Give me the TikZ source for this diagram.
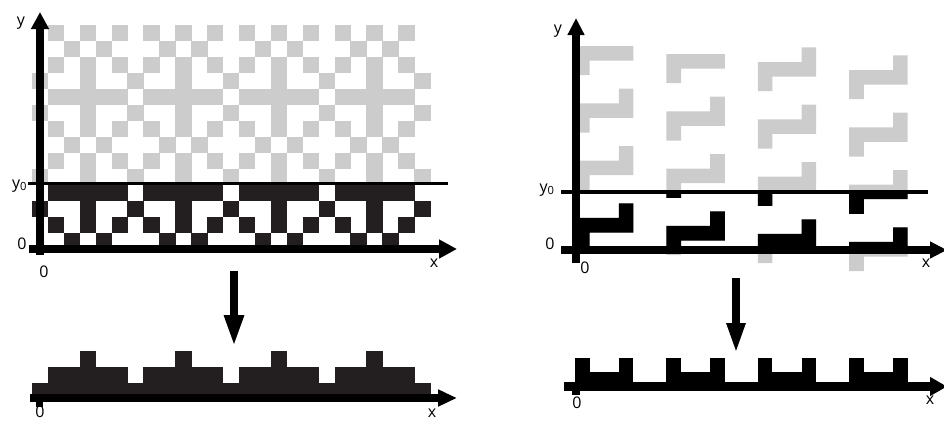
\documentclass[tikz,border=0pt]{standalone}
\usepackage{fontspec}
\setmainfont{Open Sans}
\usetikzlibrary{arrows.meta}
\definecolor{cellgray}{RGB}{204,204,204}
\definecolor{cellink}{RGB}{35,31,32}

% width of one cell of the left pattern, and of one block of the right pattern
\def\cw{15.93}
\def\zw{14.6}

% stepped piece: bar of four blocks, one block up at the right, one down at the left
\newcommand\zfull[3]{\fill[#1] (#2,#3) -- ++(3*\zw,0) -- ++(0,-\zw) -- ++(\zw,0)
  -- ++(0,2*\zw) -- ++(-3*\zw,0) -- ++(0,\zw) -- ++(-\zw,0) -- cycle;}
% the same piece without the raised block
\newcommand\zhalf[3]{\fill[#1] (#2,#3) -- ++(4*\zw,0) -- ++(0,\zw) -- ++(-3*\zw,0)
  -- ++(0,\zw) -- ++(-\zw,0) -- cycle;}
% four staggered columns of pieces
\newcommand\zcolumns[1]{%
  \foreach \k in {0,...,3}{
    \foreach \n in {0,...,3}{
      \pgfmathsetmacro\xl{575+91.4*\k}
      \pgfmathsetmacro\yt{46+8*\k+57.3*\n}
      \pgfmathtruncatemacro\half{(\n==0)&&(\k<2)}
      \ifnum\half=1 \zhalf{#1}{\xl}{\yt}\else\zfull{#1}{\xl}{\yt}\fi
    }}}

\begin{document}
\begin{tikzpicture}[x=1pt,y=-1pt,
  axis/.style={line width=8pt},
  level/.style={line width=3pt},
  lab/.style={inner sep=0pt,font=\fontsize{16}{19}\selectfont}]
\useasboundingbox (0,0) rectangle (944,421);

% ---------------- left: woven pattern ----------------
\foreach \i in {-1,...,3}{
  \foreach \j in {0,1,2}{
    \foreach \a/\b in {0/0,2/0,4/0,1/1,3/1,0/2,2/2,4/2,2/3,5/3,0/4,1/4,2/4,3/4,4/4,2/5,5/5}{
      \pgfmathtruncatemacro\c{6*\i+\a}
      \pgfmathtruncatemacro\r{6*\j+\b}
      \pgfmathtruncatemacro\keep{(\c>-2)&&(\c<24)&&(\r<14)}
      \ifnum\keep=1
        \pgfmathsetmacro\xa{48+\cw*\c}
        \pgfmathsetmacro\ya{25+16*\r}
        \ifnum\r<10 \def\fillcol{cellgray}\else\def\fillcol{cellink}\fi
        \fill[\fillcol] (\xa-0.2,\ya-0.2) rectangle ++(\cw+0.4,16.4);
      \fi
    }}}

\coordinate (LLa) at (28,183);  \coordinate (LLb) at (448,183);
\draw[level] (LLa) -- (LLb);

\coordinate (LYb) at (40,255);  \coordinate (LYt) at (40,12);
\coordinate (LXa) at (29,249);  \coordinate (LXb) at (457,249);
\draw[axis,-{Triangle[length=17pt,width=17pt]}] (LYb) -- (LYt);
\draw[axis,-{Triangle[length=18pt,width=18pt]}] (LXa) -- (LXb);

\node[lab] (ya)  at (21,23)    {y};
\node[lab] (y0a) at (19.5,186) {y\textsubscript{0}};
\node[lab] (oa)  at (22,244)   {0};
\node[lab] (ob)  at (44,272)   {0};
\node[lab] (xa)  at (434,263)  {x};

% projection arrow
\coordinate (LDa) at (234,271); \coordinate (LDb) at (234,347);
\draw[axis,-{Triangle[length=32pt,width=18pt]}] (LDa) -- (LDb);

% left profile: column sums of the dark band
\foreach \c in {-1,...,23}{
  \pgfmathtruncatemacro\m{mod(\c+6,6)}
  \pgfmathsetmacro\hh{16*(1+(\m!=5)+(\m==2))}
  \pgfmathsetmacro\xa{48+\cw*\c}
  \fill[cellink] (\xa-0.2,399) rectangle (\xa+\cw+0.2,399-\hh);
}
\fill (36,394) rectangle (43,407);
\coordinate (BXa) at (30,398);  \coordinate (BXb) at (457,398);
\draw[axis,-{Triangle[length=19pt,width=16pt]}] (BXa) -- (BXb);
\node[lab] (oc) at (40,412)  {0};
\node[lab] (xb) at (432,413) {x};

% ---------------- right: staggered pieces ----------------
\zcolumns{cellgray}
\begin{scope}
  \clip (561,192) rectangle (930,250);
  \zcolumns{black}
\end{scope}

\coordinate (RLa) at (561,192); \coordinate (RLb) at (928,192);
\draw[line width=4pt] (RLa) -- (RLb);

\coordinate (RYb) at (576,263); \coordinate (RYt) at (576,18);
\coordinate (RXa) at (561,250); \coordinate (RXb) at (947,250);
\draw[axis,-{Triangle[length=17pt,width=16pt]}] (RYb) -- (RYt);
\draw[axis,-{Triangle[length=17pt,width=16pt]}] (RXa) -- (RXb);

\node[lab] (yb)  at (558,31)  {y};
\node[lab] (y0b) at (547,190) {y\textsubscript{0}};
\node[lab] (od)  at (550,244) {0};
\node[lab] (oe)  at (585,268) {0};
\node[lab] (xc)  at (926,263) {x};

\coordinate (RDa) at (736,278); \coordinate (RDb) at (736,354);
\draw[axis,-{Triangle[length=31pt,width=17pt]}] (RDa) -- (RDb);

% right profile
\foreach \k in {0,...,3}{
  \pgfmathsetmacro\xl{575+91.4*\k}
  \fill (\xl,386) rectangle ++(\zw,-28);
  \fill (\xl+3*\zw,386) rectangle ++(\zw,-28);
  \fill (\xl,386) rectangle ++(4*\zw,-14);
}
\fill (572,390) rectangle (580,394.5);
\coordinate (BRa) at (564,386.5); \coordinate (BRb) at (947,386.5);
\draw[line width=9pt,-{Triangle[length=17pt,width=18pt]}] (BRa) -- (BRb);
\node[lab] (of) at (577,403) {0};
\node[lab] (xd) at (930,400) {x};
\end{tikzpicture}
\end{document}
